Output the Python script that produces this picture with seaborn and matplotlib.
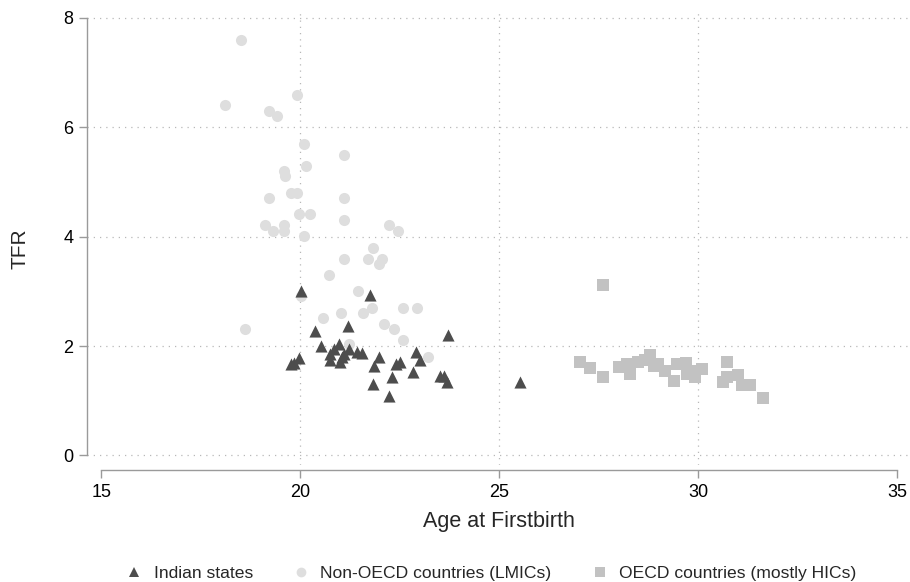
import numpy as np
import pandas as pd
import seaborn as sns
import matplotlib.pyplot as plt
from matplotlib.lines import Line2D

# Indian states
india_age = [20.02, 20.36, 20.52, 19.96, 19.77, 19.85, 20.96, 20.75, 21.09, 20.75,
             21.00, 21.19, 21.76, 23.71, 21.23, 21.42, 21.55, 21.97, 21.84, 22.41,
             22.51, 22.90, 23.01, 22.83, 22.30, 21.82, 22.22, 23.50, 23.62, 23.68,
             25.53, 21.05, 20.85]
india_tfr = [3.01, 2.28, 2.01, 1.78, 1.68, 1.70, 2.04, 1.86, 1.86, 1.74,
             1.71, 2.37, 2.93, 2.21, 1.95, 1.89, 1.87, 1.80, 1.64, 1.68,
             1.71, 1.90, 1.75, 1.52, 1.43, 1.31, 1.08, 1.46, 1.45, 1.34,
             1.34, 1.80, 1.95]

# Non-OECD countries (LMICs)
lmic_age = [18.50, 18.11, 19.91, 19.20, 19.40, 20.08, 21.10, 20.15, 19.59, 19.61,
            19.20, 19.77, 19.91, 21.10, 19.96, 20.23, 21.10, 19.12, 19.30, 19.60,
            19.60, 20.09, 21.10, 20.71, 20.02, 20.57, 21.03, 18.61, 21.23, 22.24,
            22.46, 21.83, 21.70, 22.05, 21.97, 21.45, 21.57, 21.81, 22.57, 22.92,
            22.11, 22.35, 22.57, 23.21]
lmic_tfr = [7.60, 6.40, 6.60, 6.30, 6.20, 5.70, 5.50, 5.30, 5.20, 5.11,
            4.70, 4.80, 4.80, 4.70, 4.41, 4.41, 4.31, 4.21, 4.10, 4.21,
            4.10, 4.01, 3.60, 3.30, 2.91, 2.51, 2.60, 2.31, 2.03, 4.21,
            4.10, 3.80, 3.60, 3.60, 3.50, 3.00, 2.60, 2.70, 2.70, 2.70,
            2.40, 2.31, 2.11, 1.80]

# OECD countries (mostly HICs)
oecd_age = [27.62, 27.02, 27.27, 27.62, 28.00, 28.21, 28.29, 28.50, 28.67, 28.79,
            28.88, 29.00, 29.17, 29.40, 29.46, 29.70, 29.71, 29.91, 29.84, 30.11,
            30.72, 30.72, 30.62, 31.01, 31.11, 31.31, 31.62]
oecd_tfr = [3.11, 1.71, 1.60, 1.43, 1.62, 1.67, 1.49, 1.71, 1.75, 1.83,
            1.63, 1.68, 1.55, 1.37, 1.68, 1.69, 1.49, 1.43, 1.55, 1.58,
            1.71, 1.43, 1.34, 1.48, 1.28, 1.28, 1.06]

labels = ["Indian states", "Non-OECD countries (LMICs)", "OECD countries (mostly HICs)"]
x_ticks = [15, 20, 25, 30, 35]
y_ticks = [0, 2, 4, 6, 8]

sns.set_style("white")
plt.rcParams['font.family'] = ['Liberation Sans', 'DejaVu Sans']

df_india = pd.DataFrame({"age": india_age, "tfr": india_tfr})
df_lmic = pd.DataFrame({"age": lmic_age, "tfr": lmic_tfr})
df_oecd = pd.DataFrame({"age": oecd_age, "tfr": oecd_tfr})

fig = plt.figure(figsize=(9.1, 5.82), dpi=100)
ax = fig.add_axes([87.3 / 910, 1 - 465 / 582, (908 - 87.3) / 910, (465 - 10) / 582])

c_india, c_lmic, c_oecd = "#4d4d4d", "#dedede", "#c2c2c2"

# grid first (Stata style dotted lines)
grid_kw = dict(color="#b8b8b8", lw=0.9, ls=(0, (1, 4)), zorder=0)
for yv in y_ticks:
    ax.axhline(yv, **grid_kw)
for xv in x_ticks[1:-1]:
    ax.axvline(xv, **grid_kw)

sns.scatterplot(data=df_lmic, x="age", y="tfr", marker="o", color=c_lmic, s=64,
                linewidth=0, ax=ax, zorder=2)
sns.scatterplot(data=df_oecd, x="age", y="tfr", marker="s", color=c_oecd, s=66,
                linewidth=0, ax=ax, zorder=2)
sns.scatterplot(data=df_india, x="age", y="tfr", marker="^", color=c_india, s=76,
                linewidth=0, ax=ax, zorder=3)

ax.set_xlim(14.643, 35.277)
ax.set_ylim(-0.174, 8.146)
ax.set_xticks(x_ticks)
ax.set_yticks(y_ticks)

for side in ["top", "right"]:
    ax.spines[side].set_visible(False)
spine_col = "#9a9a9a"
ax.spines["left"].set_bounds(0, 8)
ax.spines["bottom"].set_bounds(15, 35)
ax.spines["bottom"].set_position(("outward", 3.6))
for side in ["left", "bottom"]:
    ax.spines[side].set_color(spine_col)
    ax.spines[side].set_linewidth(1.0)

ax.tick_params(axis="both", which="major", length=5.8, width=1.0, color=spine_col,
               labelsize=13, labelcolor="black", direction="out")
ax.tick_params(axis="x", pad=4.5)
ax.tick_params(axis="y", pad=4.3)
ax.xaxis.set_ticks_position("bottom")
ax.yaxis.set_ticks_position("left")

ax.set_xlabel("Age at Firstbirth", fontsize=15.5)
ax.set_ylabel("TFR", fontsize=15)
ax.xaxis.set_label_coords((499 - 87.3) / 820.7, -(522 - 465) / 455)
ax.xaxis.label.set_va("center")
ax.yaxis.set_label_coords(-(87.3 - 20) / 820.7, (465 - 249) / 455)
ax.yaxis.label.set_va("center")

handles = [
    Line2D([], [], ls="none", marker="^", color=c_india, markersize=7.5, mew=0),
    Line2D([], [], ls="none", marker="o", color=c_lmic, markersize=7, mew=0),
    Line2D([], [], ls="none", marker="s", color=c_oecd, markersize=7, mew=0),
]
fig.legend(handles, labels, loc="center", bbox_to_anchor=(491 / 910, 1 - 573 / 582),
           ncol=3, frameon=False, fontsize=12.6, handlelength=1.0, handletextpad=0.6,
           columnspacing=2.25, borderpad=0)

fig.savefig("out.png", dpi=100)
